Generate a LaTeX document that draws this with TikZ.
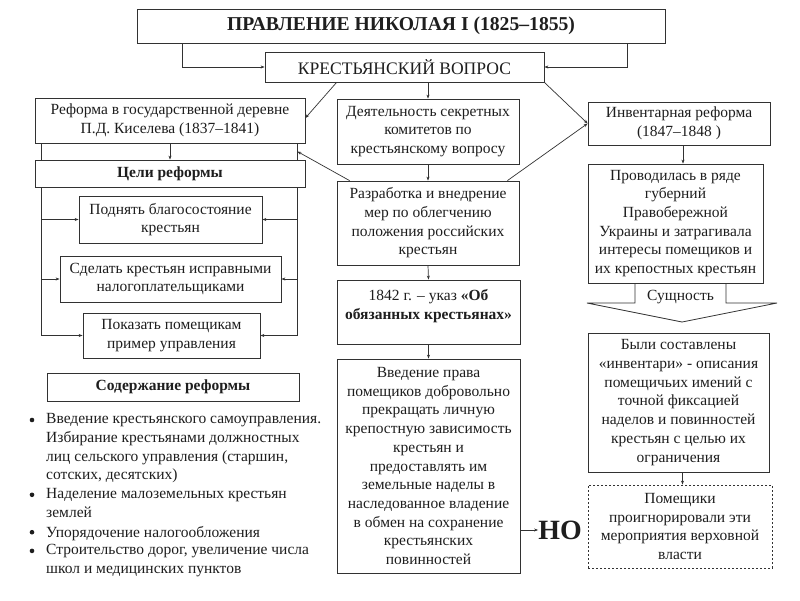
\documentclass[tikz,border=0pt]{standalone}
\usepackage{fontspec}
\setmainfont{Liberation Serif}[Scale=1.0333]
\usetikzlibrary{arrows.meta,calc}
\definecolor{lnc}{RGB}{50,50,50}
\definecolor{txc}{RGB}{30,30,30}
\begin{document}
\begin{tikzpicture}[x=1pt,y=-1pt,
  box/.style={draw=lnc, line width=0.8pt, inner sep=0pt, align=center, text=txc, font=\fontsize{15}{18.7}\selectfont},
  dbox/.style={box, dash pattern=on 2pt off 2pt},
  bbox/.style={box, font=\bfseries\fontsize{15}{18.7}\selectfont},
  item/.style={inner sep=0pt, align=left, anchor=north west, text=txc, font=\fontsize{15}{18.7}\selectfont},
  arr/.style={draw=lnc, line width=0.7pt, -{Stealth[length=4pt,width=3pt]}},
  rail/.style={draw=lnc, line width=0.8pt}]
\fill[white] (0,0) rectangle (800,600);
\useasboundingbox (0,0) rectangle (800,600);

% top
\node[box, minimum width=528pt, minimum height=34pt, font=\bfseries\fontsize{19}{22}\selectfont] (title) at (401,26) {ПРАВЛЕНИЕ НИКОЛАЯ I (1825–1855)};
\node[box, minimum width=279pt, minimum height=30pt, font=\fontsize{17}{20}\selectfont] (kv) at (404.5,67) {КРЕСТЬЯНСКИЙ ВОПРОС};

% left column
\node[box, minimum width=270pt, minimum height=45pt] (reform) at (170,120.5) {Реформа в государственной деревне\\П.Д. Киселева (1837–1841)};
\node[bbox, minimum width=270pt, minimum height=27pt] (celi) at (170,173.5) {Цели реформы};
\node[box, minimum width=183pt, minimum height=47pt] (g1) at (170.5,219.5) {Поднять благосостояние\\крестьян};
\node[box, minimum width=221pt, minimum height=46pt] (g2) at (170.5,279) {Сделать крестьян исправными\\налогоплательщиками};
\node[box, minimum width=177pt, minimum height=45pt] (g3) at (171.5,335.5) {Показать помещикам\\пример управления};
\node[bbox, minimum width=252pt, minimum height=28pt] (sod) at (173,387) {Содержание реформы};

\node[item] (i1) at (46,413.5) {Введение крестьянского самоуправления.\\Избирание крестьянами должностных\\лиц сельского управления (старшин,\\сотских, десятских)};
\node[item] (i2) at (46,488.3) {Наделение малоземельных крестьян\\землей};
\node[item] (i3) at (46,525.7) {Упорядочение налогообложения};
\node[item] (i4) at (46,544.4) {Строительство дорог, увеличение числа\\школ и медицинских пунктов};
\foreach \yy in {420,494.8,532.2,550.9} \fill[txc] (32,\yy) circle (2.3);

% middle column
\node[box, minimum width=182pt, minimum height=65pt] (dsk) at (428,131.5) {Деятельность секретных\\комитетов по\\крестьянскому вопросу};
\node[box, minimum width=182pt, minimum height=84pt] (razr) at (428,223) {Разработка и внедрение\\мер по облегчению\\положения российских\\крестьян};
\node[box, minimum width=183pt, minimum height=64pt] (ukaz) at (428.5,312) {1842 г. – указ {\bfseries «Об}\\{\bfseries обязанных крестьянах»}\\[-4pt]\mbox{}};
\node[box, minimum width=183pt, minimum height=214pt] (vved) at (428.5,466) {Введение права\\помещиков добровольно\\прекращать личную\\крепостную зависимость\\крестьян и\\предоставлять им\\земельные наделы в\\наследованное владение\\в обмен на сохранение\\крестьянских\\повинностей};
\node[inner sep=0pt, text=txc, font=\bfseries\fontsize{27}{30}\selectfont] (no) at (560,530) {НО};

% right column
\node[box, minimum width=182pt, minimum height=43pt] (inv) at (679,123.5) {Инвентарная реформа\\(1847–1848 )};
\node[box, minimum width=175pt, minimum height=119pt] (prov) at (675.5,223.5) {Проводилась в ряде\\губерний\\Правобережной\\Украины и затрагивала\\интересы помещиков и\\их крепостных крестьян};
\draw[rail] (635,283) -- (635,303) -- (587,303) -- (682,322) -- (777,303) -- (726,303) -- (726,283);
\node[inner sep=0pt, text=txc, font=\fontsize{15}{18.7}\selectfont] (sush) at (680.5,297) {Сущность};
\node[box, minimum width=181pt, minimum height=139pt] (byli) at (678.5,402.5) {Были составлены\\«инвентари» - описания\\помещичьих имений с\\точной фиксацией\\наделов и повинностей\\крестьян с целью их\\ограничения};
\node[dbox, minimum width=184pt, minimum height=83pt] (pom) at (680,526.5) {Помещики\\проигнорировали эти\\мероприятия верховной\\власти};

% connectors top
\draw[arr] ([xshift=46pt]title.south west) |- (kv.west);
\draw[arr] ([xshift=-38pt]title.south east) |- (kv.east);
\draw[arr] ([xshift=72pt]kv.south west) -- ([yshift=2.5pt]reform.east);
\draw[arr] (dsk.north |- kv.south) -- (dsk.north);
\draw[arr] (kv.south east) -- (inv.west);

% left rails
\coordinate (lt) at ([xshift=7pt]reform.south west);
\coordinate (rt) at ([xshift=-8pt]reform.south east);
\draw[rail] (lt) -- (lt |- celi.north);
\draw[rail] (rt) -- (rt |- celi.north);
\draw[arr] (reform.south) -- (celi.north);
\coordinate (lb) at (lt |- celi.south);
\coordinate (rb) at (rt |- celi.south);
\coordinate (railR) at ($(rt)!0.5!(rt |- celi.north)$);
\draw[arr] (lb) |- (g3.west);
\draw[arr] (rb) |- (g3.east);
\draw[arr] (lb |- g1.west) -- (g1.west);
\draw[arr] (lb |- g2.west) -- (g2.west);
\draw[arr] (rb |- g1.east) -- (g1.east);
\draw[arr] (rb |- g2.east) -- (g2.east);

% middle connectors
\draw[arr] (dsk.south) -- (razr.north);
\draw[arr] ([xshift=13pt]razr.north west) -- (railR);
\draw[arr] ([xshift=-12pt]razr.north east) -- (inv.west);
\draw[arr] (razr.south) -- (ukaz.north);
\draw[arr] (ukaz.south) -- (vved.north);
\draw[arr] (vved.east |- no.west) -- (no.west);

% right connectors
\coordinate (ia) at ([xshift=4pt]inv.south);
\draw[arr] (ia) -- (ia |- prov.north);
\coordinate (ba) at ([xshift=4pt]byli.south);
\draw[arr] (ba) -- (ba |- pom.north);
\end{tikzpicture}
\end{document}
